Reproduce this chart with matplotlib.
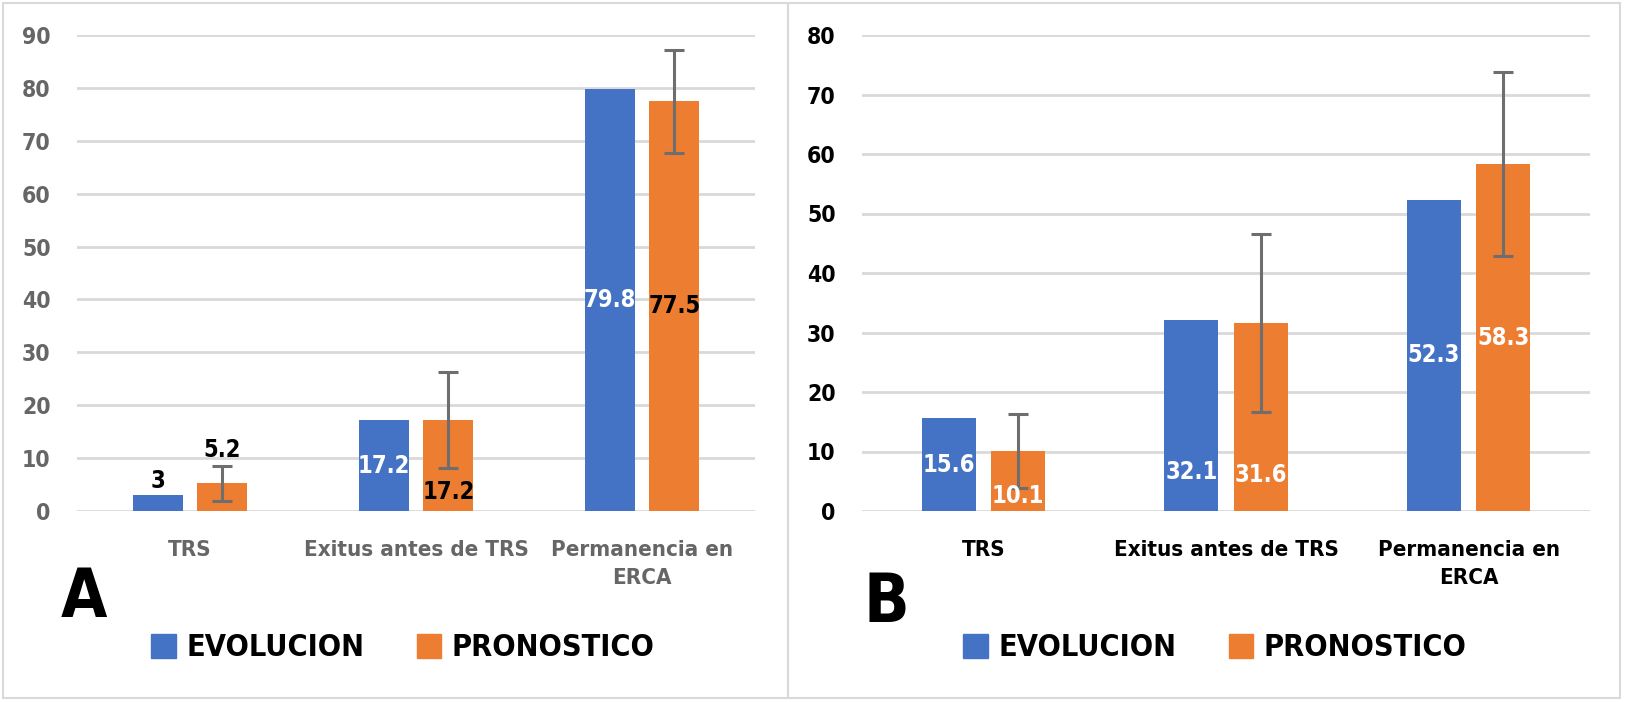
import matplotlib
matplotlib.use('Agg')
import matplotlib.pyplot as plt
from matplotlib.patches import Rectangle, Patch
import numpy as np

plt.rcParams['font.family'] = ['DejaVu Sans']
plt.rcParams['font.stretch'] = 'condensed'
plt.rcParams['font.weight'] = 'bold'

categories = ['TRS', 'Exitus antes de TRS', 'Permanencia en\nERCA']
series_names = ['EVOLUCION', 'PRONOSTICO']

# panel A
a_evol = [3, 17.2, 79.8]
a_pron = [5.2, 17.2, 77.5]
a_pron_err = [3.3, 9.1, 9.75]
a_ticks = [0, 10, 20, 30, 40, 50, 60, 70, 80, 90]

# panel B
b_evol = [15.6, 32.1, 52.3]
b_pron = [10.1, 31.6, 58.3]
b_pron_err = [6.2, 14.9, 15.5]
b_ticks = [0, 10, 20, 30, 40, 50, 60, 70, 80]

BLUE = '#4472C4'
ORANGE = '#ED7D31'
GRID = '#D9D9D9'
ERR = '#6E6E6E'

W, H = 1625, 702
fig = plt.figure(figsize=(W / 100, H / 100), dpi=100)


def px(x0, y0, x1, y1):
    # pixel box -> figure fraction [left, bottom, width, height]
    return [x0 / W, 1 - y1 / H, (x1 - x0) / W, (y1 - y0) / H]


def label_bars(ax, xs, vals, modes, colors):
    for x, v, (mode, off), c in zip(xs, vals, modes, colors):
        y = {'center': v / 2, 'base': 0, 'above': v}[mode]
        ax.annotate(f'{v:g}', (x, y), xytext=(0, off), textcoords='offset points',
                    ha='center', va='center', fontsize=17, fontweight='bold', color=c, zorder=5)


def panel(rect, evol, pron, err, ticks, tick_color, evol_modes, pron_modes, evol_colors, pron_colors):
    ax = fig.add_axes(rect)
    x = np.arange(len(categories))
    off, w = 0.143, 0.222
    ax.bar(x - off, evol, w, color=BLUE, zorder=2)
    ax.bar(x + off, pron, w, color=ORANGE, zorder=2)
    ax.errorbar(x + off, pron, yerr=err, fmt='none', ecolor=ERR, elinewidth=2.2,
                capsize=7, capthick=2.2, zorder=4)
    label_bars(ax, x - off, evol, evol_modes, evol_colors)
    label_bars(ax, x + off, pron, pron_modes, pron_colors)
    ax.set_xlim(-0.5, len(categories) - 0.5)
    ax.set_ylim(0, ticks[-1])
    ax.set_yticks(ticks)
    ax.yaxis.grid(True, color=GRID, linewidth=2)
    ax.set_axisbelow(True)
    for s in ax.spines.values():
        s.set_visible(False)
    ax.tick_params(length=0)
    ax.tick_params(axis='y', pad=19, labelsize=16.5, labelcolor=tick_color)
    ax.set_xticks(x)
    ax.set_xticklabels(categories, fontsize=16, color=tick_color, linespacing=1.5)
    ax.tick_params(axis='x', pad=21)
    return ax


ax_a = panel(px(77, 35, 755, 511), a_evol, a_pron, a_pron_err, a_ticks, '#666666',
             [('above', 10), ('center', 0), ('center', 0)],
             [('above', 24), ('base', 14), ('center', 0)],
             ['black', 'white', 'white'], ['black', 'black', 'black'])
ax_b = panel(px(862, 35, 1590, 511), b_evol, b_pron, b_pron_err, b_ticks, 'black',
             [('center', 0), ('base', 28), ('center', 0)],
             [('base', 11), ('base', 26), ('center', 0)],
             ['white', 'white', 'white'], ['white', 'white', 'white'])

# panel letters
fig.text(61 / W, 1 - 617 / H, 'A', fontsize=48, fontweight='bold', ha='left', va='baseline')
fig.text(863 / W, 1 - 622 / H, 'B', fontsize=48, fontweight='bold', ha='left', va='baseline')

# legends
handles = [Patch(color=BLUE), Patch(color=ORANGE)]
for cx in [403 / W, 1215 / W]:
    fig.legend(handles, series_names, loc='center', bbox_to_anchor=(cx, 1 - 648 / H),
               ncol=2, frameon=False, fontsize=22, handlelength=0.8, handleheight=0.8,
               handletextpad=0.35, columnspacing=1.7, borderaxespad=0)

# panel frames
for x0, x1 in [(3, 788), (788, 1620)]:
    fig.add_artist(Rectangle((x0 / W, 1 - 698 / H), (x1 - x0) / W, 695 / H,
                             transform=fig.transFigure, fill=False, edgecolor=GRID, linewidth=1.5))

fig.savefig('out.png', dpi=100)
